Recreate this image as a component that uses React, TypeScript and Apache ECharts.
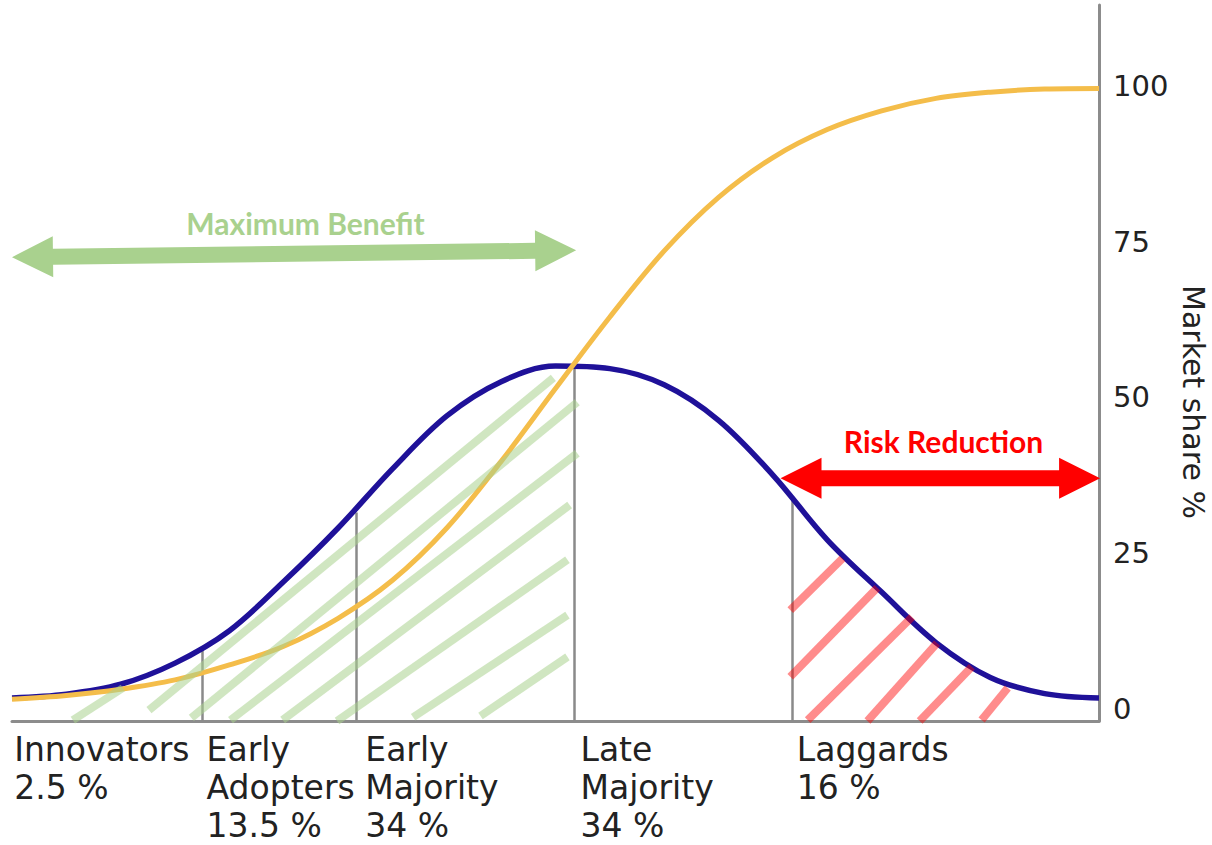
import React, { useEffect, useRef } from "react";
import * as echarts from "echarts";

// Segment labels under the x axis and where each one starts
const segmentNames = [
  "Innovators\n2.5 %",
  "Early\nAdopters\n13.5 %",
  "Early\nMajority\n34 %",
  "Late\nMajority\n34 %",
  "Laggards\n16 %",
];
const segmentLabelX = [0.2, 17.9, 32.5, 52.3, 72.2];

// Segment boundaries (x) and the height of the bell curve there
const boundaryX = [17.5, 31.7, 51.7, 71.8];
const boundaryTop = [9.4, 31.5, 55.2, 33.8];

// Bell curve: adopters per period
const bellX = [0, 5, 10, 15, 20, 25, 30, 35, 40, 45, 50, 55, 60, 65, 70, 75, 80, 85, 90, 95, 100];
const bellY = [1.7, 2.3, 3.9, 7.3, 12.5, 20.4, 29.0, 38.5, 47.0, 52.5, 55.0, 54.6, 52.0, 46.3, 37.5, 27.1, 18.7, 10.6, 5.0, 2.4, 1.7];

// S-curve: cumulative market share %
const shareX = [0, 5, 10, 15, 20, 25, 30, 35, 40, 45, 50, 55, 60, 65, 70, 75, 80, 85, 90, 95, 100];
const shareY = [1.5, 2.1, 3.1, 4.6, 7.0, 10.0, 14.5, 20.6, 29.0, 39.7, 51.4, 62.9, 73.5, 82.1, 88.5, 93.0, 96.0, 98.0, 99.0, 99.5, 99.6];

const yTicks = [0, 25, 50, 75, 100];

// Hatch segments [x1, y1, x2, y2]
const greenHatch = [
  [5.6, -1.85, 10.2, 3.3],
  [12.6, -0.24, 49.8, 53.1],
  [16.5, -1.5, 52.0, 49.2],
  [20.1, -1.85, 52.0, 41.0],
  [24.9, -1.85, 51.3, 32.7],
  [29.9, -2.0, 51.1, 23.9],
  [36.9, -1.4, 51.1, 15.0],
  [43.1, -1.2, 51.1, 8.3],
];
const redHatch = [
  [71.6, 15.8, 76.4, 24.1],
  [71.6, 5.1, 79.6, 19.4],
  [73.2, -1.85, 82.8, 14.7],
  [78.7, -2.0, 85.1, 10.5],
  [83.5, -2.0, 88.3, 6.7],
  [89.2, -1.85, 91.6, 3.3],
];

// Double-headed arrows: x1, y1, x2, y2, label x, label y
const arrowLabels = ["Maximum Benefit", "Risk Reduction"];
const arrowCoords = [
  [0, 72.5, 51.9, 73.6, 27.0, 78.0],
  [70.7, 37.0, 100.1, 37.0, 85.7, 43.0],
];
const arrowColors = ["#a9d18e", "#ff0000"];

export default function App() {
  const ref = useRef<HTMLDivElement>(null);
  useEffect(() => {
    if (!ref.current) return;
    const chart = echarts.init(ref.current, null, { renderer: "svg" });
    const fontFam = '"DejaVu Sans", Verdana, sans-serif';
    const option: any = {
      animation: false,
      backgroundColor: "#ffffff",
      grid: { left: 12, right: 113, top: 5, bottom: 124, outerBoundsMode: "none", containLabel: false },
      xAxis: {
        type: "value",
        min: 0,
        max: 100,
        axisLine: { show: true, onZero: false, lineStyle: { color: "#8c8c8c", width: 3 } },
        axisTick: { show: false },
        splitLine: { show: false },
        axisLabel: {
          customValues: segmentLabelX,
          align: "left",
          verticalAlign: "top",
          margin: 9,
          fontSize: 33,
          lineHeight: 38,
          fontFamily: fontFam,
          color: "#222222",
          formatter: (v: number) => {
            let best = 0;
            segmentLabelX.forEach((x, i) => {
              if (Math.abs(x - v) < Math.abs(segmentLabelX[best] - v)) best = i;
            });
            return segmentNames[best];
          },
        },
      },
      yAxis: {
        type: "value",
        position: "right",
        min: -2,
        max: 113,
        axisLine: { show: true, onZero: false, lineStyle: { color: "#8c8c8c", width: 3 } },
        axisTick: { show: false },
        splitLine: { show: false },
        axisLabel: {
          customValues: yTicks,
          margin: 14,
          fontSize: 29,
          fontFamily: fontFam,
          color: "#222222",
        },
      },
      graphic: [
        {
          type: "text",
          x: 1193,
          y: 402,
          rotation: -Math.PI / 2,
          style: {
            text: "Market share %",
            font: '30px "DejaVu Sans"',
            fill: "#222222",
            align: "center",
            verticalAlign: "middle",
          },
        },
      ],
      series: [
        {
          type: "lines",
          coordinateSystem: "cartesian2d",
          silent: true,
          z: 1,
          lineStyle: { color: "#8a8a8a", width: 2.5, opacity: 1 },
          data: boundaryX.map((x, i) => ({ coords: [[x, -2], [x, boundaryTop[i]]] })),
        },
        {
          type: "line",
          data: bellX.map((x, i) => [x, bellY[i]]),
          smooth: 0.35,
          showSymbol: false,
          silent: true,
          z: 3,
          lineStyle: { color: "#1f1199", width: 5.5 },
        },
        {
          type: "line",
          data: shareX.map((x, i) => [x, shareY[i]]),
          smooth: 0.35,
          showSymbol: false,
          silent: true,
          z: 4,
          lineStyle: { color: "#f4bd4a", width: 5 },
        },
        {
          type: "lines",
          coordinateSystem: "cartesian2d",
          silent: true,
          z: 5,
          lineStyle: { color: "rgba(169,209,142,0.55)", width: 8, opacity: 1, cap: "butt" },
          data: greenHatch.map((h) => ({ coords: [[h[0], h[1]], [h[2], h[3]]] })),
        },
        {
          type: "lines",
          coordinateSystem: "cartesian2d",
          silent: true,
          z: 5,
          lineStyle: { color: "rgba(255,0,0,0.45)", width: 8, opacity: 1, cap: "butt" },
          data: redHatch.map((h) => ({ coords: [[h[0], h[1]], [h[2], h[3]]] })),
        },
        {
          type: "custom",
          z: 6,
          clip: false,
          silent: true,
          encode: { x: [0, 2, 4], y: [1, 3, 5] },
          data: arrowCoords.map((c, i) => ({ value: c, itemStyle: { color: arrowColors[i] } })),
          renderItem: (params: any, api: any) => {
            const a = api.coord([api.value(0), api.value(1)]);
            const b = api.coord([api.value(2), api.value(3)]);
            const t = api.coord([api.value(4), api.value(5)]);
            const dx = b[0] - a[0];
            const dy = b[1] - a[1];
            const len = Math.hypot(dx, dy);
            const ux = dx / len, uy = dy / len;
            const nx = -uy, ny = ux;
            const H = 41, W = 20.5, T = 8;
            const pt = (p: number[], al: number, ac: number) => [p[0] + ux * al + nx * ac, p[1] + uy * al + ny * ac];
            const points = [
              a, pt(a, H, W), pt(a, H, T), pt(b, -H, T), pt(b, -H, W), b,
              pt(b, -H, -W), pt(b, -H, -T), pt(a, H, -T), pt(a, H, -W),
            ];
            const color = arrowColors[params.dataIndex];
            return {
              type: "group",
              children: [
                { type: "polygon", shape: { points }, style: { fill: color } },
                {
                  type: "text",
                  x: t[0],
                  y: t[1],
                  style: {
                    text: arrowLabels[params.dataIndex],
                    fill: color,
                    font: 'bold 30px Lato, "Open Sans", sans-serif',
                    align: "center",
                    verticalAlign: "middle",
                  },
                },
              ],
            };
          },
        },
      ],
    };
    chart.setOption(option);
    return () => chart.dispose();
  }, []);
  return (
    <div
      ref={ref}
      style={{ position: "fixed", left: 0, top: 0, width: 1212, height: 845, background: "#fff" }}
    />
  );
}
